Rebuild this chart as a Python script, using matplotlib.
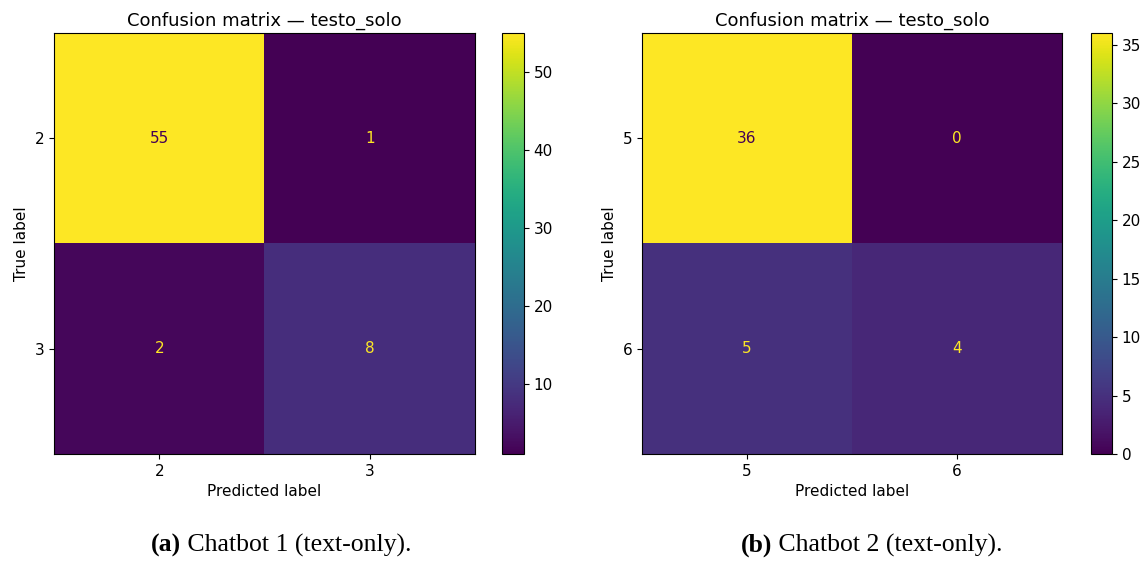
import numpy as np
import matplotlib
matplotlib.use("Agg")
import matplotlib.pyplot as plt

# data
labels_a = ["2", "3"]
cm_a = [[55, 1],
        [2, 8]]
labels_b = ["5", "6"]
cm_b = [[36, 0],
        [5, 4]]
title = "Confusion matrix \u2014 testo_solo"
captions = [("(a)", " Chatbot 1 (text-only)."),
            ("(b)", " Chatbot 2 (text-only).")]

W, H = 1147, 561
fig = plt.figure(figsize=(W / 100, H / 100), dpi=100)
cmap = plt.get_cmap("viridis")
plt.rcParams["xtick.labelsize"] = 11
plt.rcParams["ytick.labelsize"] = 11


def px(x0, y0, x1, y1):
    return [x0 / W, 1 - y1 / H, (x1 - x0) / W, (y1 - y0) / H]


def draw_cm(ax, cax, cm, labels):
    cm = np.array(cm)
    im = ax.imshow(cm, cmap=cmap, aspect="auto", interpolation="nearest")
    thresh = (cm.max() + cm.min()) / 2.0
    for i in range(cm.shape[0]):
        for j in range(cm.shape[1]):
            col = cmap(0.0) if cm[i, j] >= thresh else cmap(1.0)
            ax.text(j, i, str(cm[i, j]), ha="center", va="center",
                    color=col, fontsize=11)
    ax.set_xticks(range(len(labels)))
    ax.set_xticklabels(labels, fontsize=11)
    ax.set_yticks(range(len(labels)))
    ax.set_yticklabels(labels, fontsize=11)
    ax.set_xlabel("Predicted label", fontsize=11)
    ax.set_ylabel("True label", fontsize=11)
    ax.set_title(title, fontsize=13, pad=5)
    cb = fig.colorbar(im, cax=cax)
    cb.ax.tick_params(labelsize=11)


ax1 = fig.add_axes(px(54, 33, 475, 454))
cax1 = fig.add_axes(px(502, 33, 524, 454))
draw_cm(ax1, cax1, cm_a, labels_a)

ax2 = fig.add_axes(px(642, 33, 1062, 454))
cax2 = fig.add_axes(px(1091, 33, 1112, 454))
draw_cm(ax2, cax2, cm_b, labels_b)

# captions: bold tag + regular text, centred as one line
fig.canvas.draw()
r = fig.canvas.get_renderer()
for (tag, rest), cx in zip(captions, [281, 872]):
    t1 = fig.text(0, 1 - 545 / H, tag, fontfamily="Liberation Serif",
                  fontweight="bold", fontsize=18.5, va="center")
    t2 = fig.text(0, 1 - 545 / H, rest, fontfamily="Liberation Serif",
                  fontsize=18.5, va="center")
    w1 = t1.get_window_extent(r).width
    w2 = t2.get_window_extent(r).width
    x0 = cx - (w1 + w2) / 2
    t1.set_x(x0 / W)
    t2.set_x((x0 + w1) / W)

fig.savefig("out.png", dpi=100)
